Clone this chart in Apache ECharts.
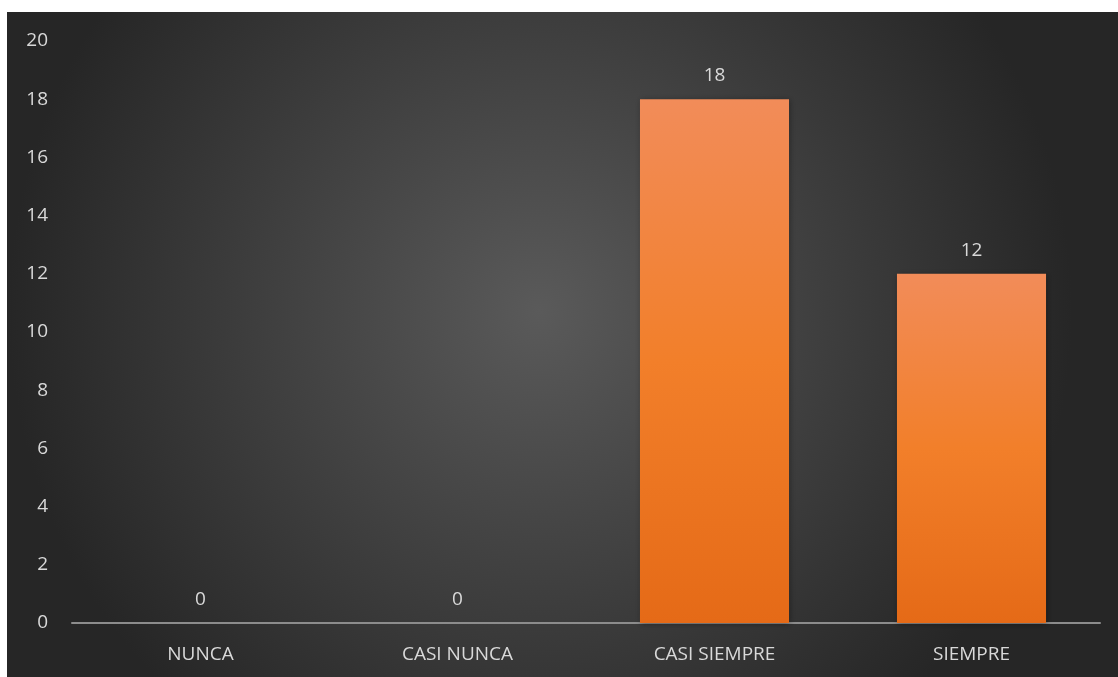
<!DOCTYPE html>
<html>
<head>
<meta charset="utf-8">
<script src="https://cdn.jsdelivr.net/npm/echarts@6/dist/echarts.min.js"></script>
<style>
html,body{margin:0;padding:0;background:#ffffff;width:1118px;height:677px;overflow:hidden;}
#chart{position:absolute;left:7px;top:12px;width:1111px;height:665px;}
</style>
</head>
<body>
<div id="chart"></div>
<script>
const categories = ['NUNCA', 'CASI NUNCA', 'CASI SIEMPRE', 'SIEMPRE'];
const values = [0, 0, 18, 12];
const yTicks = [0, 2, 4, 6, 8, 10, 12, 14, 16, 18, 20];

const chart = echarts.init(document.getElementById('chart'));
const font = 'Open Sans';
chart.setOption({
  animation: false,
  backgroundColor: {
    type: 'radial', x: 0.48, y: 0.45, r: 0.8,
    colorStops: [
      {offset: 0, color: '#5a5a5a'},
      {offset: 1, color: '#262626'}
    ]
  },
  grid: {left: 65, right: 18, top: 29, bottom: 54},
  xAxis: {
    type: 'category',
    data: categories,
    axisLine: {lineStyle: {color: '#8c8c8c', width: 2}},
    axisTick: {show: false},
    axisLabel: {color: '#d9d9d9', fontSize: 19, fontFamily: font, margin: 22}
  },
  yAxis: {
    type: 'value',
    min: yTicks[0], max: yTicks[yTicks.length - 1], interval: 2,
    axisLine: {show: false},
    axisTick: {show: false},
    splitLine: {show: false},
    axisLabel: {color: '#d9d9d9', fontSize: 19, fontFamily: font, margin: 24}
  },
  series: [{
    type: 'bar',
    data: values,
    barWidth: '58%',
    itemStyle: {
      color: {
        type: 'linear', x: 0, y: 0, x2: 0, y2: 1,
        colorStops: [
          {offset: 0, color: '#f28c59'},
          {offset: 0.5, color: '#f27f2a'},
          {offset: 1, color: '#e56a17'}
        ]
      },
      shadowColor: 'rgba(0,0,0,0.35)', shadowBlur: 6, shadowOffsetX: 1, shadowOffsetY: 1
    },
    label: {
      show: true, position: 'top', distance: 14,
      color: '#d9d9d9', fontSize: 19, fontFamily: font
    }
  }]
});
</script>
</body>
</html>
